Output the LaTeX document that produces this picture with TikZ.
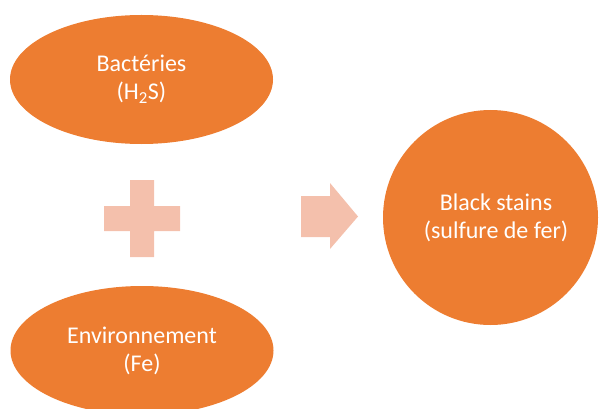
\documentclass[tikz,border=0pt]{standalone}
\usepackage{fontspec}
\setmainfont{Carlito}
\usetikzlibrary{shapes.geometric}
\definecolor{orng}{HTML}{ED7D31}
\definecolor{lightorng}{RGB}{244,192,172}
\tikzset{
  txt/.style={text=white, align=center, inner sep=0pt,
    font=\fontsize{24}{28}\selectfont},
  blob/.style={txt, fill=orng, draw=none},
  oval/.style={blob, ellipse, minimum width=263pt, minimum height=129pt},
  round/.style={blob, circle, minimum size=215pt},
  sym/.style={fill=lightorng, draw=none}
}
\begin{document}
\begin{tikzpicture}[x=1pt,y=-1pt]
\useasboundingbox (0,0) rectangle (599,409);
\clip (0,0) rectangle (599,409);
\node[oval] (bact) at (141.5,79.5) {Bactéries\\(H\textsubscript{2}S)};
\node[oval] (env) at (142,350.5) {Environnement\\(Fe)};
\node[round] (black) at (490.5,217.5) {};
\node[txt] (blacktxt) at ([xshift=5.5pt]black.center) {Black stains\\(sulfure de fer)};
% plus sign
\fill[sym] (130,180) -- (154,180) -- (154,206) -- (180,206) -- (180,231)
  -- (154,231) -- (154,257) -- (130,257) -- (130,231) -- (104,231)
  -- (104,206) -- (130,206) -- cycle;
% arrow
\fill[sym] (301,196) -- (330,196) -- (330,183) -- (358,216.5) -- (330,249)
  -- (330,237) -- (301,237) -- cycle;
\end{tikzpicture}
\end{document}
